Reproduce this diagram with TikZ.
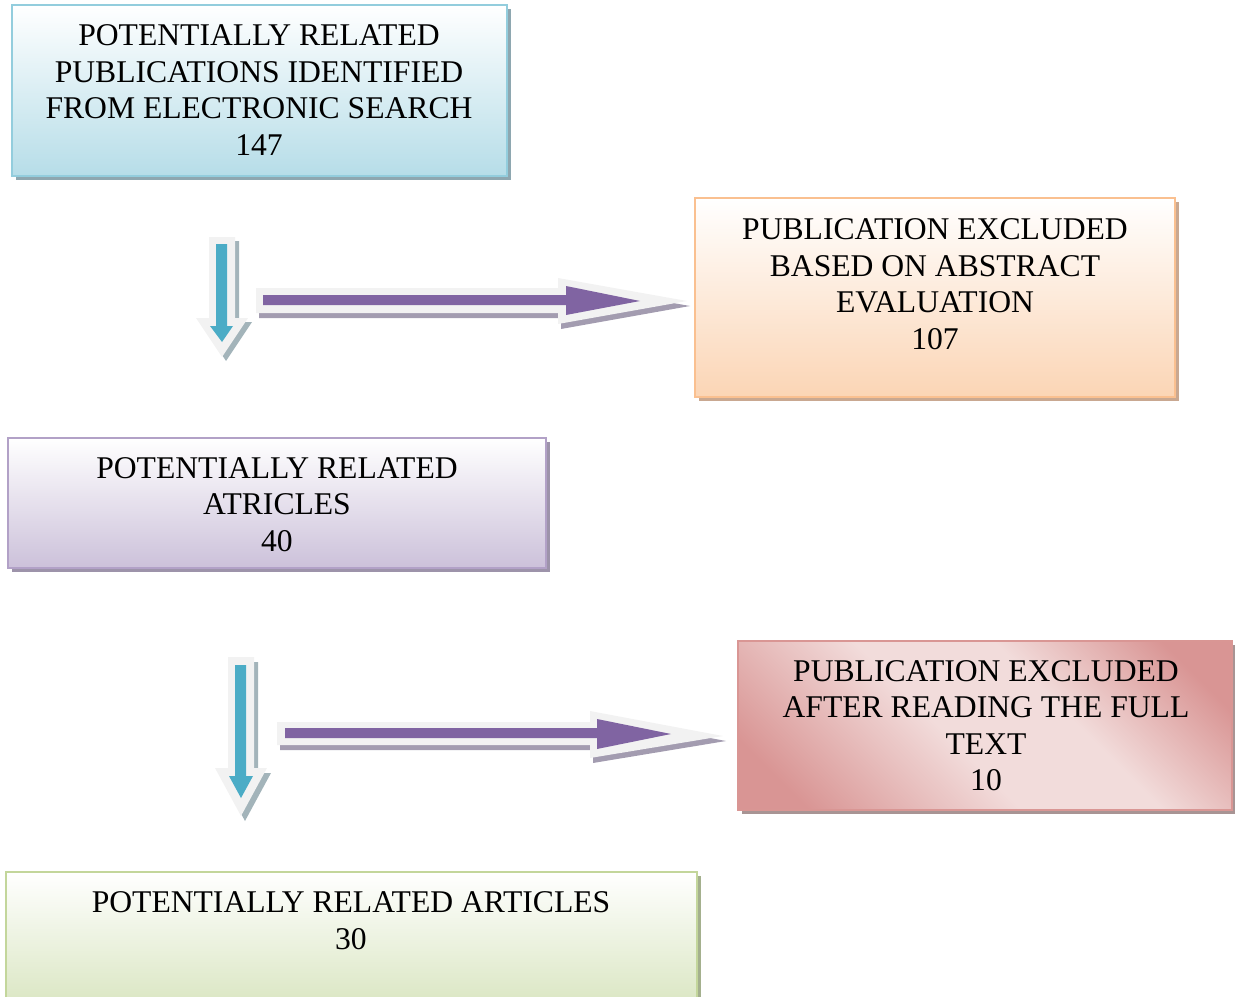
\documentclass[tikz,border=0pt]{standalone}
\usepackage{fontspec}
\setmainfont{Liberation Serif}
\usetikzlibrary{shadows}
\definecolor{bluB}{HTML}{93CDDD}\definecolor{bluF}{HTML}{B6DDE8}\definecolor{bluS}{HTML}{8EA7B0}
\definecolor{orB}{HTML}{FAC090}\definecolor{orF}{HTML}{FBD5B5}\definecolor{orS}{HTML}{C9A891}
\definecolor{puB}{HTML}{B2A1C7}\definecolor{puF}{HTML}{CCC1DA}\definecolor{puS}{HTML}{9D93AA}
\definecolor{reB}{HTML}{D99694}\definecolor{reD}{HTML}{D99594}\definecolor{reL}{HTML}{F2DCDB}\definecolor{reS}{HTML}{A89494}
\definecolor{grB}{HTML}{C3D69B}\definecolor{grF}{HTML}{D7E4BD}\definecolor{grS}{HTML}{A4B08E}
\definecolor{arW}{HTML}{F2F2F2}\definecolor{arBlue}{HTML}{4BACC6}\definecolor{arPurple}{HTML}{8064A2}
\definecolor{arSb}{HTML}{A3B4BA}\definecolor{arSp}{HTML}{A39CB0}
\pgfdeclarehorizontalshading{redband}{100bp}{color(0bp)=(reD); color(22bp)=(reD); color(45bp)=(reL); color(60bp)=(reL); color(78bp)=(reD); color(100bp)=(reD)}
\begin{document}
\begin{tikzpicture}[x=0.02cm,y=-0.02cm,
  txt/.style={font=\fontsize{18}{20.8}\selectfont, align=center, inner sep=0pt},
  box/.style={draw, line width=1.6pt, inner sep=0pt},
  shad/.style={drop shadow={shadow xshift=0.08cm, shadow yshift=-0.08cm, opacity=1, fill=#1}},
  arrout/.style={fill=arW},
  ashadb/.style={fill=arSb},
  ashadp/.style={fill=arSp}]
\useasboundingbox (0,0) rectangle (1235,997);

% boxes
\node[box, draw=bluB, top color=white, bottom color=bluF, shad=bluS,
      minimum width=9.9cm, minimum height=3.42cm] (b1) at (259.5,90.5) {};
\node[box, draw=orB, top color=white, bottom color=orF, shad=orS,
      minimum width=9.6cm, minimum height=3.98cm] (b2) at (935,297.5) {};
\node[box, draw=puB, top color=white, bottom color=puF, shad=puS,
      minimum width=10.76cm, minimum height=2.6cm] (b3) at (277,503) {};
\node[box, draw=reB, shading=redband, shading angle=45, shad=reS,
      minimum width=9.88cm, minimum height=3.38cm] (b4) at (985,725.5) {};
\node[box, draw=grB, top color=white, bottom color=grF, shad=grS,
      minimum width=13.82cm, minimum height=2.92cm] (b5) at (351.5,945) {};

% texts
\node[txt] (t1) at (259,90) {POTENTIALLY RELATED\\PUBLICATIONS IDENTIFIED\\FROM ELECTRONIC SEARCH\\147};
\node[txt] (t2) at (935,284) {PUBLICATION EXCLUDED\\BASED ON ABSTRACT\\EVALUATION\\107};
\node[txt] (t3) at (277,504.5) {POTENTIALLY RELATED\\ATRICLES\\40};
\node[txt] (t4) at (986,725.5) {PUBLICATION EXCLUDED\\AFTER READING THE FULL\\TEXT\\10};
\node[txt] (t5) at (351,920.5) {POTENTIALLY RELATED ARTICLES\\30};

% down arrow 1
\fill[ashadb,shift={(4,4)}] (209,237)--(235,237)--(235,318)--(248,318)--(222,357)--(196,318)--(209,318)--cycle;
\fill[arrout] (209,237)--(235,237)--(235,318)--(248,318)--(222,357)--(196,318)--(209,318)--cycle;
\fill[arBlue] (216,244)--(227,244)--(227,326)--(233,326)--(222,342)--(210,326)--(216,326)--cycle;

% right arrow 1
\fill[ashadp,shift={(3,5)}] (256,288)--(558,288)--(558,278)--(687,301)--(558,324)--(558,313)--(256,313)--cycle;
\fill[arrout] (256,288)--(558,288)--(558,278)--(687,301)--(558,324)--(558,313)--(256,313)--cycle;
\fill[arPurple] (263,295)--(566,295)--(566,286)--(640,301)--(566,315)--(566,305)--(263,305)--cycle;

% down arrow 2
\fill[ashadb,shift={(4,5)}] (228,657)--(254,657)--(254,768)--(267,768)--(241,816)--(215,768)--(228,768)--cycle;
\fill[arrout] (228,657)--(254,657)--(254,768)--(267,768)--(241,816)--(215,768)--(228,768)--cycle;
\fill[arBlue] (235,665)--(246,665)--(246,776)--(253,776)--(241,798)--(229,776)--(235,776)--cycle;

% right arrow 2
\fill[ashadp,shift={(3,5)}] (277,722)--(590,722)--(590,711)--(723,736)--(590,758)--(590,745)--(277,745)--cycle;
\fill[arrout] (277,722)--(590,722)--(590,711)--(723,736)--(590,758)--(590,745)--(277,745)--cycle;
\fill[arPurple] (285,728)--(597,728)--(597,719)--(671,734)--(597,749)--(597,738)--(285,738)--cycle;
\end{tikzpicture}
\end{document}
